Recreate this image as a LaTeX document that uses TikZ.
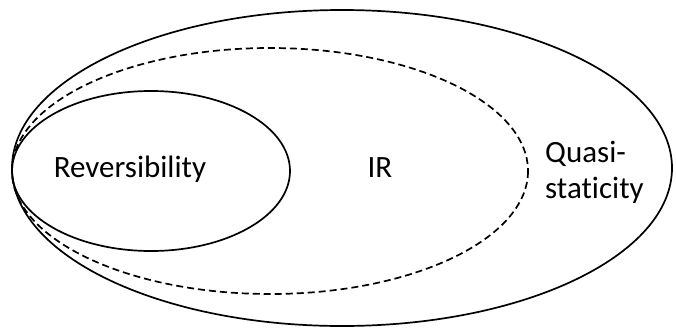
\documentclass[tikz,border=0pt]{standalone}
\usepackage{fontspec}
\setsansfont{Carlito}[Ligatures=NoCommon]
\usetikzlibrary{positioning}
\tikzset{
  setline/.style={line width=1.7pt},
  irline/.style={line width=1.7pt,dash pattern=on 7pt off 4pt},
  lbl/.style={draw=none,font=\sffamily\fontsize{31}{34}\selectfont,inner sep=0pt,align=left},
  every picture/.style={line cap=butt,line join=round}}
\begin{document}
\begin{tikzpicture}[x=1pt,y=-1pt]
  \useasboundingbox (0,0) rectangle (676,332);
  \draw[setline] (342,168) ellipse [x radius=330,y radius=158];
  \draw[irline] (270,171) ellipse [x radius=258,y radius=123];
  \draw[setline] (151,171) ellipse [x radius=139,y radius=80];
  \node[lbl,anchor=base] (rev) at (130,177){Reversibility};
  \node[lbl,anchor=base] (ir) at (380,177){IR};
  \node[lbl,anchor=base west] (qs) at (545,162){Quasi-};
  \node[lbl,anchor=base west] (st) at (545,198){staticity};
\end{tikzpicture}
\end{document}
